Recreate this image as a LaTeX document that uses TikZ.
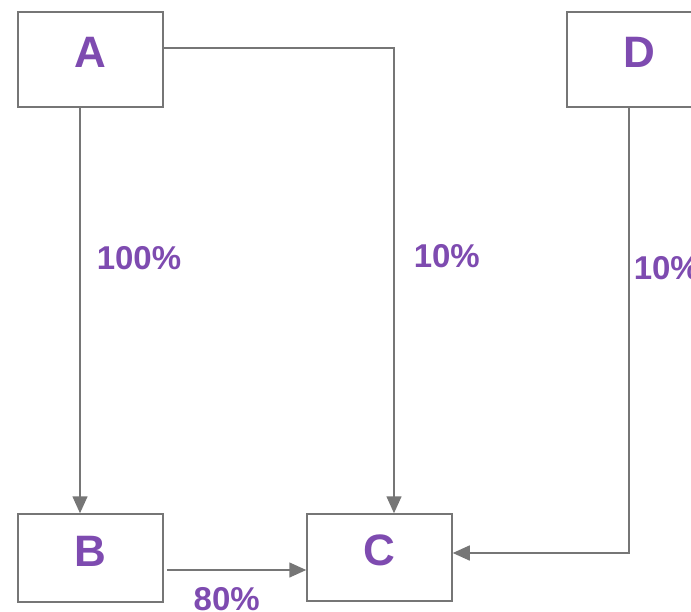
\documentclass[tikz,border=0pt]{standalone}
\usepackage{fontspec}
\setmainfont{Liberation Sans}
\usetikzlibrary{arrows.meta}

\definecolor{edgegray}{RGB}{118,118,118}
\definecolor{labelpurple}{RGB}{126,75,176}

\begin{document}
\begin{tikzpicture}[->,>={Triangle[length=17pt,width=15pt]},line width=1.5pt,node distance=289pt,
    box/.style={draw=edgegray,minimum width=145pt,inner sep=0pt,text=labelpurple,font=\bfseries\fontsize{44}{44}\selectfont,text height=31pt,text depth=15pt},
    pct/.style={text=labelpurple,inner sep=0pt,font=\bfseries\fontsize{33}{33}\selectfont}]

                \useasboundingbox (0,0) rectangle (691pt,-611pt);

                \node[box, minimum height=95pt] (A) at (90.5pt,-59.5pt) {A};
                \node[box, minimum height=88pt] (B) [below of = A, yshift = -209.5pt] {B};
                \node[box, minimum height=87pt] (C) [right of = B, yshift = 0.5pt] {C};
                \node[box, minimum height=95pt] (D) [right of = A, xshift = 260pt] {D};

                % \path[every node/.style={pct}]

                \draw[->, edgegray] ([xshift=-10.5pt]A.south) to node[pct, right=16pt, pos=0.37] {100\%} ([xshift=-10.5pt]B.north);
                \draw[->, edgegray] ([yshift=11.5pt]A.east) -| node[pct, right=19pt, pos=0.724] {10\%} ([xshift=14.5pt]C.north);
                \draw[->, edgegray] ([xshift=-10.5pt]D.south) |- node[pct, right=4pt, pos=0.18] {10\%} ([yshift=4.5pt]C.east);
                \draw[->, edgegray] ([xshift=3pt, yshift=-12pt]B.east) to node[pct, below=17pt, pos=0.43] {80\%} ([yshift=-12.5pt]C.west);

                ;
\end{tikzpicture}
\end{document}
